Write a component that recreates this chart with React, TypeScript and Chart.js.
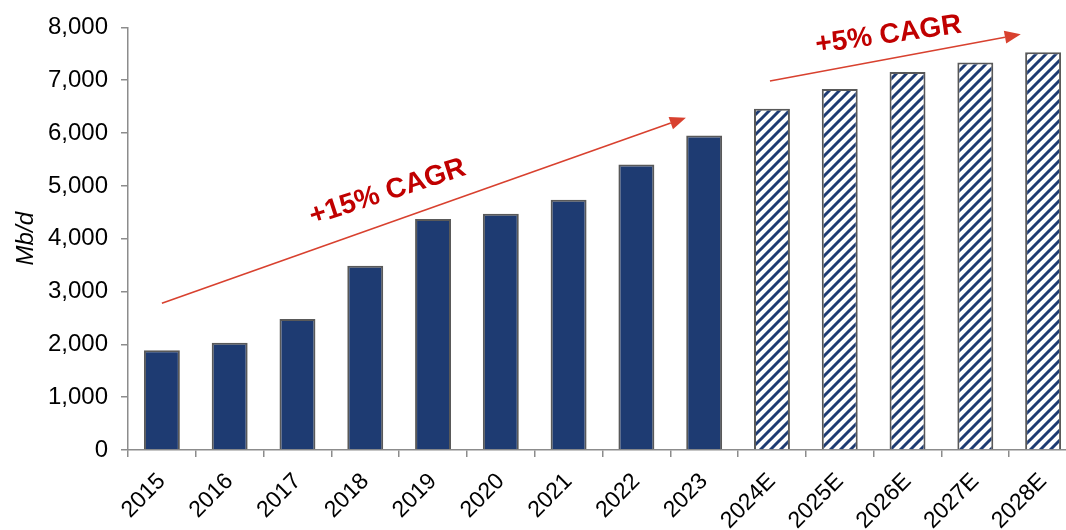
import React, { useEffect, useRef } from "react";
import { Chart, registerables } from "chart.js";

Chart.register(...registerables);

// ---- data ----
const years: string[] = [
  "2015", "2016", "2017", "2018", "2019", "2020", "2021",
  "2022", "2023", "2024E", "2025E", "2026E", "2027E", "2028E",
];
const volumes: number[] = [
  1890, 2030, 2480, 3490, 4375, 4470, 4735, 5405, 5955,
  6460, 6835, 7155, 7335, 7530,
];
const yTickValues: number[] = [0, 1000, 2000, 3000, 4000, 5000, 6000, 7000, 8000];
const yAxisTitle = "Mb/d";
const cagrLabels: string[] = ["+15% CAGR", "+5% CAGR"];

const NAVY = "#1E3B72";
const BORDER = "#595959";
const AXIS = "#8C8C8C";
const ARROW = "#D8412F";
const LABEL_RED = "#C00000";
const FONT = "'Liberation Sans', Arial, sans-serif";

function makeHatch(): CanvasPattern | string {
  const size = 10;
  const c = document.createElement("canvas");
  c.width = size;
  c.height = size;
  const g = c.getContext("2d");
  if (!g) return "#fff";
  g.fillStyle = "#ffffff";
  g.fillRect(0, 0, size, size);
  g.strokeStyle = NAVY;
  g.lineWidth = 3;
  g.beginPath();
  for (const k of [0, size, 2 * size]) {
    g.moveTo(-2, k + 2);
    g.lineTo(k + 2, -2);
  }
  g.stroke();
  const p = g.createPattern(c, "repeat");
  return p || "#fff";
}

// annotation layout (in category-index / value units)
const annotations = [
  { from: [0.0, 2780], to: [7.73, 6290], text: cagrLabels[0], at: [3.33, 4880], angle: -18 },
  { from: [8.97, 6985], to: [12.67, 7870], text: cagrLabels[1], at: [10.72, 7855], angle: -8 },
];

const annotationPlugin = {
  id: "cagrArrows",
  afterDatasetsDraw(chart: any) {
    const { ctx, scales } = chart;
    const xs = scales.x;
    const ys = scales.y;
    const x0 = xs.getPixelForValue(0);
    const step = xs.getPixelForValue(1) - x0;
    const px = (i: number) => x0 + i * step;
    const py = (v: number) => ys.getPixelForValue(v);
    ctx.save();
    for (const a of annotations) {
      const sx = px(a.from[0]);
      const sy = py(a.from[1]);
      const ex = px(a.to[0]);
      const ey = py(a.to[1]);
      const ang = Math.atan2(ey - sy, ex - sx);
      const headLen = 16;
      const headW = 6.5;
      const bx = ex - headLen * Math.cos(ang);
      const by = ey - headLen * Math.sin(ang);
      ctx.strokeStyle = ARROW;
      ctx.lineWidth = 1.6;
      ctx.beginPath();
      ctx.moveTo(sx, sy);
      ctx.lineTo(bx, by);
      ctx.stroke();
      ctx.fillStyle = ARROW;
      ctx.beginPath();
      ctx.moveTo(ex, ey);
      ctx.lineTo(bx + headW * Math.sin(ang), by - headW * Math.cos(ang));
      ctx.lineTo(bx - headW * Math.sin(ang), by + headW * Math.cos(ang));
      ctx.closePath();
      ctx.fill();

      ctx.save();
      ctx.translate(px(a.at[0]), py(a.at[1]));
      ctx.rotate((a.angle * Math.PI) / 180);
      ctx.fillStyle = LABEL_RED;
      ctx.font = `bold 28px ${FONT}`;
      ctx.textAlign = "center";
      ctx.textBaseline = "middle";
      ctx.fillText(a.text, 0, 0);
      ctx.restore();
    }
    ctx.restore();
  },
};

export default function App() {
  const ref = useRef<HTMLCanvasElement | null>(null);

  useEffect(() => {
    if (!ref.current) return;
    const hatch = makeHatch();
    const colors = years.map((y) => (y.endsWith("E") ? hatch : NAVY));
    const chart = new Chart(ref.current, {
      type: "bar",
      data: {
        labels: years,
        datasets: [
          {
            data: volumes,
            backgroundColor: colors as any,
            borderColor: BORDER,
            borderWidth: 2,
            categoryPercentage: 1,
            barPercentage: 0.53,
          },
        ],
      },
      options: {
        animation: false,
        responsive: false,
        layout: { padding: { top: 26, right: 13, left: 0, bottom: 0 } },
        plugins: {
          legend: { display: false },
          tooltip: { enabled: false },
        },
        scales: {
          x: {
            grid: {
              display: true,
              drawOnChartArea: false,
              drawTicks: true,
              tickLength: 7,
              color: AXIS,
              lineWidth: 1.5,
              offset: true,
            },
            border: { color: AXIS, width: 1.5 },
            ticks: {
              color: "#000",
              font: { family: FONT, size: 23 },
              minRotation: 45,
              maxRotation: 45,
              autoSkip: false,
              padding: 11,
            },
            afterFit: (s: any) => {
              s.height = 80;
            },
          },
          y: {
            min: 0,
            max: 8000,
            afterBuildTicks: (s: any) => {
              s.ticks = yTickValues.map((v) => ({ value: v }));
            },
            grid: {
              display: true,
              drawOnChartArea: false,
              drawTicks: true,
              tickLength: 7,
              color: AXIS,
              lineWidth: 1.5,
            },
            border: { color: AXIS, width: 1.5 },
            ticks: {
              color: "#000",
              font: { family: FONT, size: 24 },
              padding: 13,
              callback: (v: any) => Number(v).toLocaleString("en-US"),
            },
            title: {
              display: true,
              text: yAxisTitle,
              color: "#000",
              font: { family: FONT, size: 24, style: "italic" },
              padding: { top: 12, bottom: 0 },
            },
            afterFit: (s: any) => {
              s.width = 128;
            },
          },
        },
      },
      plugins: [annotationPlugin],
    });
    return () => chart.destroy();
  }, []);

  return (
    <div
      style={{
        position: "fixed",
        left: 0,
        top: 0,
        width: 1066,
        height: 530,
        overflow: "hidden",
        background: "#fff",
      }}
    >
      <canvas ref={ref} width={1090} height={530} style={{ width: 1090, height: 530, display: "block" }} />
    </div>
  );
}
